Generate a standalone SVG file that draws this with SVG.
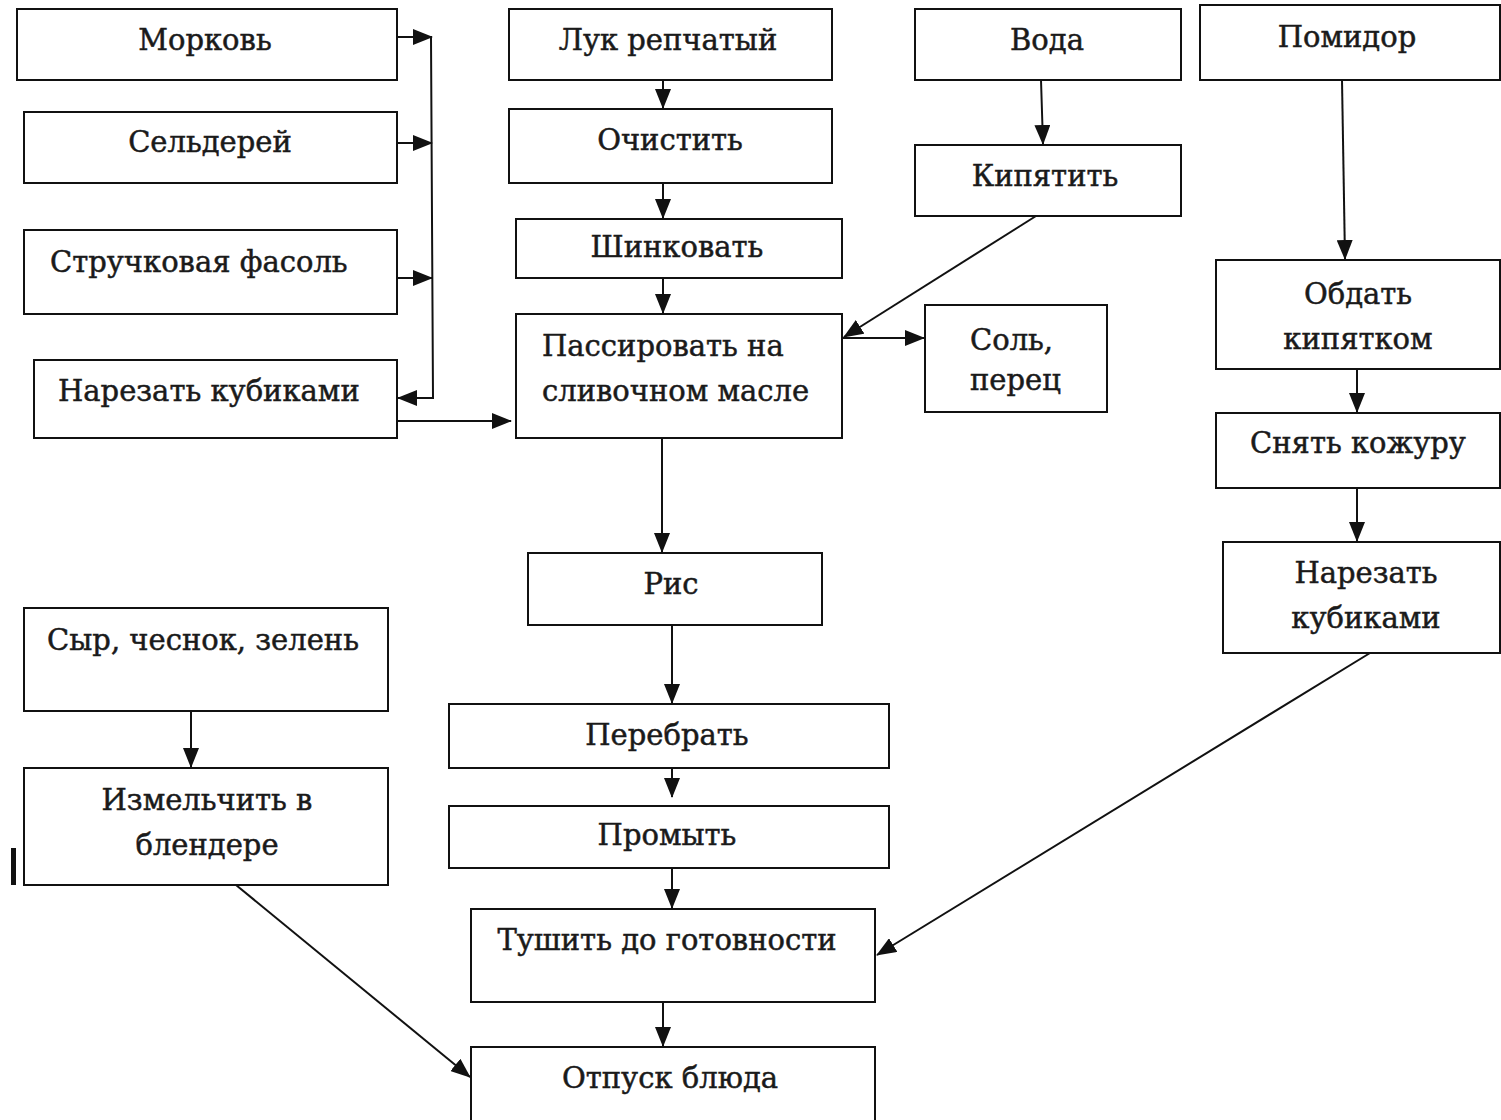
<svg xmlns="http://www.w3.org/2000/svg" width="1501" height="1120" viewBox="0 0 1501 1120">
<style>
.b{fill:#fff;stroke:#111;stroke-width:2}
.t{font-family:"DejaVu Serif","Liberation Serif",serif;font-size:29px;fill:#1a1a1a;stroke:#1a1a1a;stroke-width:0.5}
.m{text-anchor:middle}
.c{fill:none;stroke:#111;stroke-width:2}
</style>
<defs>
<marker id="a" markerUnits="userSpaceOnUse" markerWidth="20" markerHeight="16" viewBox="0 0 20 16" refX="19" refY="8" orient="auto">
<path d="M0,0 L20,8 L0,16 Z" fill="#111"/>
</marker>
</defs>
<rect width="1501" height="1120" fill="#fff"/>
<g id="n-morkov"><rect class="b" x="17" y="9" width="380" height="71"/><text class="t m" x="205" y="50">Морковь</text></g>
<g id="n-selderey"><rect class="b" x="24" y="112" width="373" height="71"/><text class="t m" x="210" y="152">Сельдерей</text></g>
<g id="n-fasol"><rect class="b" x="24" y="230" width="373" height="84"/><text class="t" x="50" y="272">Стручковая фасоль</text></g>
<g id="n-narezat1"><rect class="b" x="34" y="360" width="363" height="78"/><text class="t" x="58" y="401">Нарезать кубиками</text></g>
<g id="n-luk"><rect class="b" x="509" y="9" width="323" height="71"/><text class="t m" x="668" y="50">Лук репчатый</text></g>
<g id="n-ochistit"><rect class="b" x="509" y="109" width="323" height="74"/><text class="t m" x="670" y="150">Очистить</text></g>
<g id="n-shinkovat"><rect class="b" x="516" y="219" width="326" height="59"/><text class="t m" x="677" y="257">Шинковать</text></g>
<g id="n-passirovat"><rect class="b" x="516" y="314" width="326" height="124"/><text class="t" x="542" y="356">Пассировать на</text><text class="t" x="542" y="401">сливочном масле</text></g>
<g id="n-sol"><rect class="b" x="925" y="305" width="182" height="107"/><text class="t" x="970" y="350">Соль,</text><text class="t" x="970" y="390">перец</text></g>
<g id="n-voda"><rect class="b" x="915" y="9" width="266" height="71"/><text class="t m" x="1047" y="50">Вода</text></g>
<g id="n-kipyatit"><rect class="b" x="915" y="145" width="266" height="71"/><text class="t m" x="1045" y="186">Кипятить</text></g>
<g id="n-pomidor"><rect class="b" x="1200" y="5" width="300" height="75"/><text class="t m" x="1347" y="47">Помидор</text></g>
<g id="n-obdat"><rect class="b" x="1216" y="260" width="284" height="109"/><text class="t m" x="1358" y="304">Обдать</text><text class="t m" x="1358" y="349">кипятком</text></g>
<g id="n-snyat"><rect class="b" x="1216" y="413" width="284" height="75"/><text class="t m" x="1358" y="453">Снять кожуру</text></g>
<g id="n-narezat2"><rect class="b" x="1223" y="542" width="277" height="111"/><text class="t m" x="1366" y="583">Нарезать</text><text class="t m" x="1366" y="628">кубиками</text></g>
<g id="n-ris"><rect class="b" x="528" y="553" width="294" height="72"/><text class="t m" x="671" y="594">Рис</text></g>
<g id="n-perebrat"><rect class="b" x="449" y="704" width="440" height="64"/><text class="t m" x="667" y="745">Перебрать</text></g>
<g id="n-promyt"><rect class="b" x="449" y="806" width="440" height="62"/><text class="t m" x="667" y="845">Промыть</text></g>
<g id="n-tushit"><rect class="b" x="471" y="909" width="404" height="93"/><text class="t m" x="667" y="950">Тушить до готовности</text></g>
<g id="n-otpusk"><rect class="b" x="471" y="1047" width="404" height="80"/><text class="t m" x="670" y="1088">Отпуск блюда</text></g>
<g id="n-syr"><rect class="b" x="24" y="608" width="364" height="103"/><text class="t m" x="203" y="650">Сыр, чеснок, зелень</text></g>
<g id="n-izmelchit"><rect class="b" x="24" y="768" width="364" height="117"/><text class="t m" x="207" y="810">Измельчить в</text><text class="t m" x="207" y="855">блендере</text></g>
<rect x="11" y="848" width="5" height="37" fill="#111"/>
<g id="connectors">
<line class="c" x1="397" y1="37" x2="432" y2="37" marker-end="url(#a)"/>
<line class="c" x1="397" y1="143" x2="432" y2="143" marker-end="url(#a)"/>
<line class="c" x1="397" y1="278" x2="432" y2="278" marker-end="url(#a)"/>
<polyline class="c" points="431,37 433,398 398,398" marker-end="url(#a)"/>
<line class="c" x1="397" y1="421" x2="511" y2="421" marker-end="url(#a)"/>
<line class="c" x1="663" y1="80" x2="663" y2="108" marker-end="url(#a)"/>
<line class="c" x1="663" y1="183" x2="663" y2="218" marker-end="url(#a)"/>
<line class="c" x1="663" y1="278" x2="663" y2="313" marker-end="url(#a)"/>
<line class="c" x1="1041" y1="80" x2="1043" y2="144" marker-end="url(#a)"/>
<line class="c" x1="1036" y1="216" x2="844" y2="337" marker-end="url(#a)"/>
<line class="c" x1="843" y1="338" x2="924" y2="338" marker-end="url(#a)"/>
<line class="c" x1="662" y1="438" x2="662" y2="552" marker-end="url(#a)"/>
<line class="c" x1="672" y1="625" x2="672" y2="703" marker-end="url(#a)"/>
<line class="c" x1="672" y1="768" x2="672" y2="797" marker-end="url(#a)"/>
<line class="c" x1="672" y1="868" x2="672" y2="908" marker-end="url(#a)"/>
<line class="c" x1="663" y1="1002" x2="663" y2="1046" marker-end="url(#a)"/>
<line class="c" x1="1342" y1="80" x2="1345" y2="259" marker-end="url(#a)"/>
<line class="c" x1="1357" y1="369" x2="1357" y2="412" marker-end="url(#a)"/>
<line class="c" x1="1357" y1="488" x2="1357" y2="541" marker-end="url(#a)"/>
<line class="c" x1="1370" y1="653" x2="877" y2="955" marker-end="url(#a)"/>
<line class="c" x1="191" y1="711" x2="191" y2="767" marker-end="url(#a)"/>
<line class="c" x1="236" y1="885" x2="470" y2="1077" marker-end="url(#a)"/>
</g>
</svg>
